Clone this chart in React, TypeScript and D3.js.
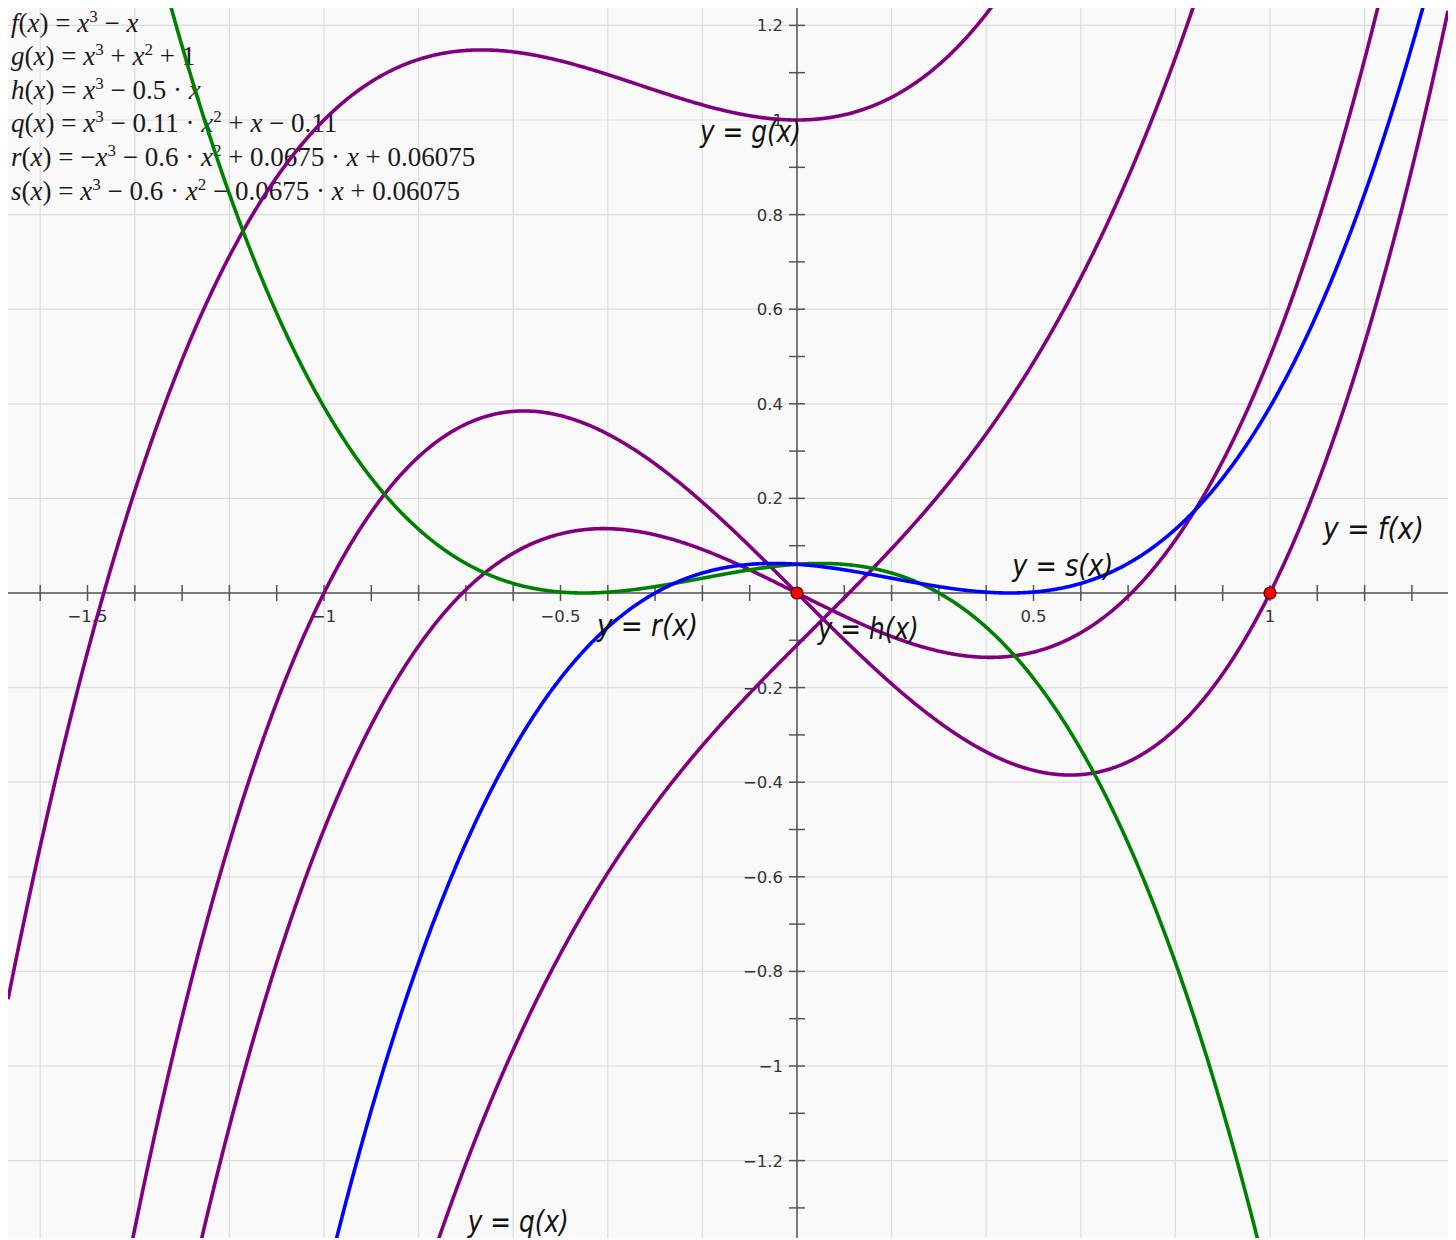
import React from "react";
import * as d3 from "d3";

const W = 1456, H = 1240;
const box = { left: 8, top: 8, right: 1448, bottom: 1238 };

// cubic coefficients [x^3, x^2, x, 1]
const fCoef = [1, 0, -1, 0];
const gCoef = [1, 1, 0, 1];
const hCoef = [1, 0, -0.5, 0];
const qCoef = [1, -0.11, 1, -0.11];
const rCoef = [-1, -0.6, 0.0675, 0.06075];
const sCoef = [1, -0.6, -0.0675, 0.06075];

const curves = [
  { name: "f", coef: fCoef, color: "#800080" },
  { name: "g", coef: gCoef, color: "#800080" },
  { name: "h", coef: hCoef, color: "#800080" },
  { name: "q", coef: qCoef, color: "#800080" },
  { name: "r", coef: rCoef, color: "#008000" },
  { name: "s", coef: sCoef, color: "#0000ff" },
];

// where each "y = ?(x)" label sits, in graph units (left edge, baseline)
const labelNames = ["g", "r", "h", "s", "f", "q"];
const labelX = [-0.205, -0.423, 0.044, 0.455, 1.112, -0.696];
const labelY = [0.954, -0.091, -0.097, 0.036, 0.114, -1.351];

const points = [[0, 0], [1, 0]];

const xTickLabels = [-1.5, -1, -0.5, 0.5, 1];
const yTickLabels = [-1.2, -1, -0.8, -0.6, -0.4, -0.2, 0.2, 0.4, 0.6, 0.8, 1, 1.2];
const gridStep = 0.2;
const tickStep = 0.1;

// legend rows: [text, italic?, superscript?]
const legendRows: [string, boolean, boolean][][] = [
  [["f", true, false], ["(", false, false], ["x", true, false], [") = ", false, false], ["x", true, false], ["3", false, true], [" − ", false, false], ["x", true, false]],
  [["g", true, false], ["(", false, false], ["x", true, false], [") = ", false, false], ["x", true, false], ["3", false, true], [" + ", false, false], ["x", true, false], ["2", false, true], [" + 1", false, false]],
  [["h", true, false], ["(", false, false], ["x", true, false], [") = ", false, false], ["x", true, false], ["3", false, true], [" − 0.5 · ", false, false], ["x", true, false]],
  [["q", true, false], ["(", false, false], ["x", true, false], [") = ", false, false], ["x", true, false], ["3", false, true], [" − 0.11 · ", false, false], ["x", true, false], ["2", false, true], [" + ", false, false], ["x", true, false], [" − 0.11", false, false]],
  [["r", true, false], ["(", false, false], ["x", true, false], [") = −", false, false], ["x", true, false], ["3", false, true], [" − 0.6 · ", false, false], ["x", true, false], ["2", false, true], [" + 0.0675 · ", false, false], ["x", true, false], [" + 0.06075", false, false]],
  [["s", true, false], ["(", false, false], ["x", true, false], [") = ", false, false], ["x", true, false], ["3", false, true], [" − 0.6 · ", false, false], ["x", true, false], ["2", false, true], [" − 0.0675 · ", false, false], ["x", true, false], [" + 0.06075", false, false]],
];

const UNIT = 473;
const x0px = 797, y0px = 593;

const xScale = d3.scaleLinear()
  .domain([(box.left - x0px) / UNIT, (box.right - x0px) / UNIT])
  .range([box.left, box.right]);
const yScale = d3.scaleLinear()
  .domain([(y0px - box.bottom) / UNIT, (y0px - box.top) / UNIT])
  .range([box.bottom, box.top]);

const evalCubic = (c: number[], x: number) => ((c[0] * x + c[1]) * x + c[2]) * x + c[3];
const fmt = (v: number) => (v < 0 ? "−" : "") + d3.format("~g")(Math.abs(v));

export default function App() {
  const [xa, xb] = xScale.domain();
  const [ya, yb] = yScale.domain();
  const xs = d3.range(xa, xb, 0.002).concat([xb]);
  const line = d3.line<number[]>().x(d => xScale(d[0])).y(d => yScale(d[1]));

  const gridX = d3.range(Math.ceil(xa / gridStep), Math.floor(xb / gridStep) + 1).map(i => i * gridStep);
  const gridY = d3.range(Math.ceil(ya / gridStep), Math.floor(yb / gridStep) + 1).map(i => i * gridStep);
  const ticksX = d3.range(Math.ceil(xa / tickStep), Math.floor(xb / tickStep) + 1).filter(i => i !== 0).map(i => i * tickStep);
  const ticksY = d3.range(Math.ceil(ya / tickStep), Math.floor(yb / tickStep) + 1).filter(i => i !== 0).map(i => i * tickStep);

  const X0 = xScale(0), Y0 = yScale(0);
  const lgSize = 27, supSize = 17;

  return (
    <>
      <style>{`body{margin:0;overflow:hidden}`}</style>
      <svg width={W} height={H} style={{ display: "block", background: "#fff" }}>
        <defs>
          <clipPath id="plotclip">
            <rect x={box.left} y={box.top} width={box.right - box.left} height={box.bottom - box.top} />
          </clipPath>
        </defs>
        <rect x={box.left} y={box.top} width={box.right - box.left} height={box.bottom - box.top} fill="#f9f9f9" />
        <g clipPath="url(#plotclip)">
          {gridX.map(v => (
            <line key={"gx" + v} x1={xScale(v)} x2={xScale(v)} y1={box.top} y2={box.bottom} stroke="#dcdcdc" strokeWidth={1.2} />
          ))}
          {gridY.map(v => (
            <line key={"gy" + v} y1={yScale(v)} y2={yScale(v)} x1={box.left} x2={box.right} stroke="#dcdcdc" strokeWidth={1.2} />
          ))}

          {/* legend */}
          <g fontFamily="'Liberation Serif', 'DejaVu Serif', serif" fontSize={lgSize} fill="#1a1a1a">
            {legendRows.map((row, i) => (
              <text key={"lg" + i} x={11} y={31.5 + i * 33.6}>
                {row.map(([t, it, sup], j) => (
                  <tspan key={j} fontStyle={it ? "italic" : "normal"}
                    fontSize={sup ? supSize : lgSize}
                    dy={sup ? -10 : (j > 0 && row[j - 1][2] ? 10 : 0)}>
                    {t}
                  </tspan>
                ))}
              </text>
            ))}
          </g>

          {/* axes */}
          <line x1={box.left} x2={box.right} y1={Y0} y2={Y0} stroke="#555" strokeWidth={1.5} />
          <line x1={X0} x2={X0} y1={box.top} y2={box.bottom} stroke="#555" strokeWidth={1.5} />
          {ticksX.map(v => (
            <line key={"tx" + v} x1={xScale(v)} x2={xScale(v)} y1={Y0 - 8} y2={Y0 + 8} stroke="#555" strokeWidth={1.5} />
          ))}
          {ticksY.map(v => (
            <line key={"ty" + v} y1={yScale(v)} y2={yScale(v)} x1={X0 - 8} x2={X0 + 8} stroke="#555" strokeWidth={1.5} />
          ))}
          <g fontFamily="'DejaVu Sans', sans-serif" fontSize={16.5} fill="#333">
            {xTickLabels.map(v => (
              <text key={"lx" + v} x={xScale(v)} y={Y0 + 29} textAnchor="middle">{fmt(v)}</text>
            ))}
            {yTickLabels.map(v => (
              <text key={"ly" + v} x={X0 - 14} y={yScale(v) + 6} textAnchor="end">{fmt(v)}</text>
            ))}
          </g>

          {/* curves */}
          {curves.map(c => (
            <path key={c.name} d={line(xs.map(x => [x, evalCubic(c.coef, x)]))!}
              fill="none" stroke={c.color} strokeWidth={3.6} strokeLinejoin="round" />
          ))}

          {points.map(([px, py], i) => (
            <circle key={"pt" + i} cx={xScale(px)} cy={yScale(py)} r={6} fill="#ff0000" stroke="#4a0000" strokeWidth={1.2} />
          ))}

          {/* function labels */}
          <g fontFamily="'DejaVu Sans', sans-serif" fontStyle="italic" fontSize={31} fill="#111">
            {labelNames.map((n, i) => (
              <text key={"fl" + n} x={xScale(labelX[i])} y={yScale(labelY[i])}
                textLength={101} lengthAdjust="spacingAndGlyphs">
                {`y = ${n}(x)`}
              </text>
            ))}
          </g>
        </g>
      </svg>
    </>
  );
}
